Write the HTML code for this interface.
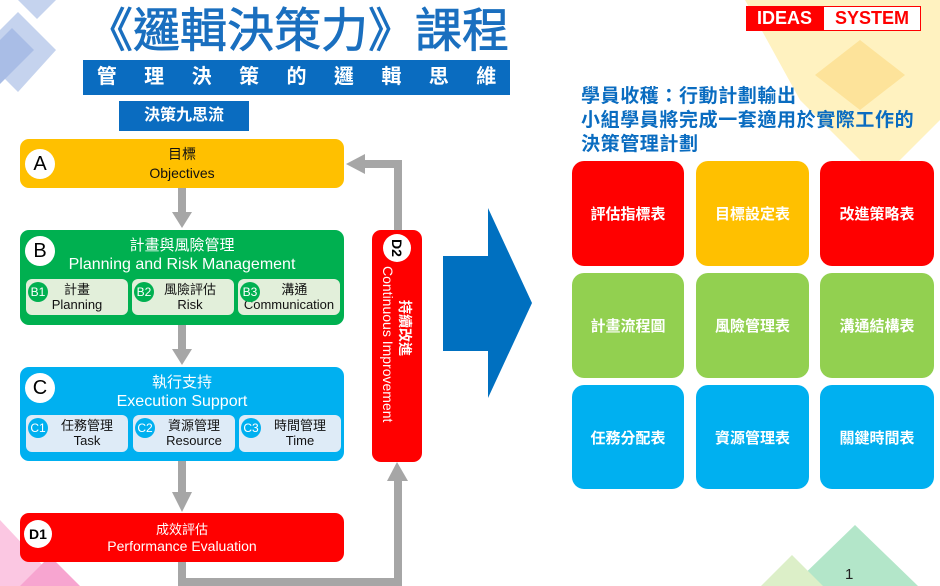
<!DOCTYPE html>
<html><head><meta charset="utf-8"><style>
body{margin:0;width:940px;height:586px;overflow:hidden;background:#fff;position:relative;font-family:"Liberation Sans","Noto Sans CJK TC",sans-serif}
.a{position:absolute}
.box{position:absolute;border-radius:9px;text-align:center}
.circ{position:absolute;background:#fff;border-radius:50%;text-align:center;color:#000}
.sub{position:absolute;border-radius:6px;font-size:13px;line-height:15px;color:#111;text-align:center}
.sc{position:absolute;left:2px;top:3px;width:20px;height:20px;border-radius:50%;color:#fff;font-size:12px;line-height:20px;text-align:center}
.g{position:absolute;border-radius:12px;color:#fff;font-weight:bold;font-size:15px;display:flex;align-items:center;justify-content:center}
</style></head><body>
<svg class="a" style="left:0;top:0" width="940" height="586">
<polygon points="18,0 56,0 37,19" fill="#c5d3ee"/>
<polygon points="0,30 18,12 56,50 18,92 0,74" fill="#c5d3ee"/>
<polygon points="0,40 12,28 34,50 0,84" fill="#a9bde6"/>
<polygon points="745,0 940,0 940,120 880,180 800,100" fill="#fff2c0"/>
<polygon points="860,40 905,75 860,110 815,75" fill="#fde39a"/>
<polygon points="0,520 62,586 0,586" fill="#fbc7e2"/>
<polygon points="20,586 50,556 80,586" fill="#f7a5d0"/>
<polygon points="855,525 918,586 792,586" fill="#b3e6c9"/>
<polygon points="792,555 823,586 761,586" fill="#dcefc8"/>
<g fill="#a6a6a6">
<rect x="178" y="188" width="8" height="26"/><polygon points="172,212 192,212 182,228"/>
<rect x="178" y="325" width="8" height="26"/><polygon points="172,349 192,349 182,365"/>
<rect x="178" y="461" width="8" height="36"/><polygon points="172,492 192,492 182,512"/>
<rect x="178" y="562" width="8" height="24"/>
<rect x="178" y="578" width="224" height="8"/>
<rect x="394" y="480" width="8" height="106"/><polygon points="387,481 408,481 397,462"/>
<rect x="394" y="160" width="8" height="70"/>
<rect x="362" y="160" width="40" height="8"/><polygon points="346,164 365,154 365,174"/>
</g>
<polygon points="443,256 488,256 488,208 532,303 488,398 488,351 443,351" fill="#0070c0"/>
</svg>
<div class="a" style="left:86px;top:2px;font-size:47px;font-weight:normal;color:#1a6fbf;line-height:58px;white-space:nowrap;-webkit-text-stroke:0.8px #1a6fbf">《邏輯決策力》課程</div>
<div class="a" style="left:83px;top:60px;width:427px;height:35px;background:#0a6cc0;color:#fff;font-size:20px;font-weight:bold;line-height:35px;display:flex;justify-content:space-around"><span>管</span><span>理</span><span>決</span><span>策</span><span>的</span><span>邏</span><span>輯</span><span>思</span><span>維</span></div>
<div class="a" style="left:119px;top:101px;width:130px;height:30px;background:#0a6cc0;color:#fff;font-size:16px;font-weight:bold;line-height:30px;text-align:center">決策九思流</div>

<div class="box" style="left:20px;top:139px;width:324px;height:49px;background:#ffc000;color:#111;font-size:14px;line-height:19px;padding-top:6px;box-sizing:border-box">目標<br>Objectives</div>
<div class="circ" style="left:25px;top:149px;width:30px;height:30px;font-size:20px;line-height:30px">A</div>

<div class="box" style="left:20px;top:230px;width:324px;height:95px;background:#00b050;color:#fff;font-size:15px;line-height:19px;padding-top:6px;box-sizing:border-box">計畫與風險管理<br><span style="font-size:16px">Planning and Risk Management</span></div>
<div class="circ" style="left:25px;top:236px;width:30px;height:30px;font-size:20px;line-height:30px">B</div>
<div class="sub" style="left:26px;top:279px;width:102px;height:36px;background:#e2efda"><div class="sc" style="background:#00b050">B1</div><div style="padding-top:3px">計畫<br>Planning</div></div>
<div class="sub" style="left:132px;top:279px;width:102px;height:36px;background:#e2efda"><div class="sc" style="background:#00b050">B2</div><div style="padding-top:3px;padding-left:14px">風險評估<br>Risk</div></div>
<div class="sub" style="left:238px;top:279px;width:102px;height:36px;background:#e2efda"><div class="sc" style="background:#00b050">B3</div><div style="padding-top:3px">&nbsp;&nbsp;&nbsp;溝通<br>Communication</div></div>

<div class="box" style="left:20px;top:367px;width:324px;height:94px;background:#00b0f0;color:#fff;font-size:15px;line-height:19px;padding-top:6px;box-sizing:border-box">執行支持<br><span style="font-size:16px">Execution Support</span></div>
<div class="circ" style="left:25px;top:373px;width:30px;height:30px;font-size:20px;line-height:30px">C</div>
<div class="sub" style="left:26px;top:415px;width:102px;height:37px;background:#deebf7"><div class="sc" style="background:#00b0f0">C1</div><div style="padding-top:3px;padding-left:20px">任務管理<br>Task</div></div>
<div class="sub" style="left:133px;top:415px;width:102px;height:37px;background:#deebf7"><div class="sc" style="background:#00b0f0">C2</div><div style="padding-top:3px;padding-left:20px">資源管理<br>Resource</div></div>
<div class="sub" style="left:239px;top:415px;width:102px;height:37px;background:#deebf7"><div class="sc" style="background:#00b0f0">C3</div><div style="padding-top:3px;padding-left:20px">時間管理<br>Time</div></div>

<div class="box" style="left:20px;top:513px;width:324px;height:49px;background:#ff0000;color:#fff;font-size:13px;line-height:17px;padding-top:8px;box-sizing:border-box">成效評估<br><span style="font-size:14px">Performance Evaluation</span></div>
<div class="circ" style="left:24px;top:520px;width:28px;height:28px;font-size:14px;line-height:28px;font-weight:bold">D1</div>

<div class="box" style="left:372px;top:230px;width:50px;height:232px;background:#ff0000;overflow:hidden">
  <div style="position:absolute;left:-91px;top:91px;width:232px;height:50px;transform:rotate(90deg);color:#fff;text-align:left">
    <div style="position:absolute;left:4px;top:11px;width:28px;height:28px;border-radius:50%;background:#fff;color:#000;font-weight:bold;font-size:14px;line-height:28px;text-align:center">D2</div>
    <div style="position:absolute;left:70px;top:9px;font-size:14px;font-weight:bold;line-height:17px;white-space:nowrap">持續改進</div>
    <div style="position:absolute;left:36px;top:26px;font-size:14px;line-height:17px;white-space:nowrap">Continuous Improvement</div>
  </div>
</div>

<div class="a" style="left:746px;top:6px;width:77px;height:25px;background:#ff0000;color:#fff;font-weight:bold;font-size:18px;line-height:25px;text-align:center">IDEAS</div>
<div class="a" style="left:823px;top:6px;width:96px;height:23px;border:1px solid #ff0000;background:#fff;color:#ff0000;font-weight:bold;font-size:18px;line-height:23px;text-align:center">SYSTEM</div>

<div class="a" style="left:581px;top:85px;color:#0a6cc0;font-weight:bold;font-size:19px;letter-spacing:0.6px;line-height:24px;white-space:nowrap">學員收穫：行動計劃輸出<br>小組學員將完成一套適用於實際工作的<br>決策管理計劃</div>

<div class="g" style="left:572px;top:161px;width:112px;height:105px;background:#ff0000">評估指標表</div>
<div class="g" style="left:696px;top:161px;width:113px;height:105px;background:#ffc000">目標設定表</div>
<div class="g" style="left:820px;top:161px;width:114px;height:105px;background:#ff0000">改進策略表</div>
<div class="g" style="left:572px;top:273px;width:112px;height:105px;background:#92d050">計畫流程圖</div>
<div class="g" style="left:696px;top:273px;width:113px;height:105px;background:#92d050">風險管理表</div>
<div class="g" style="left:820px;top:273px;width:114px;height:105px;background:#92d050">溝通結構表</div>
<div class="g" style="left:572px;top:385px;width:112px;height:104px;background:#00b0f0">任務分配表</div>
<div class="g" style="left:696px;top:385px;width:113px;height:104px;background:#00b0f0">資源管理表</div>
<div class="g" style="left:820px;top:385px;width:114px;height:104px;background:#00b0f0">關鍵時間表</div>

<div class="a" style="left:845px;top:566px;font-size:15px;color:#222">1</div>
</body></html>
